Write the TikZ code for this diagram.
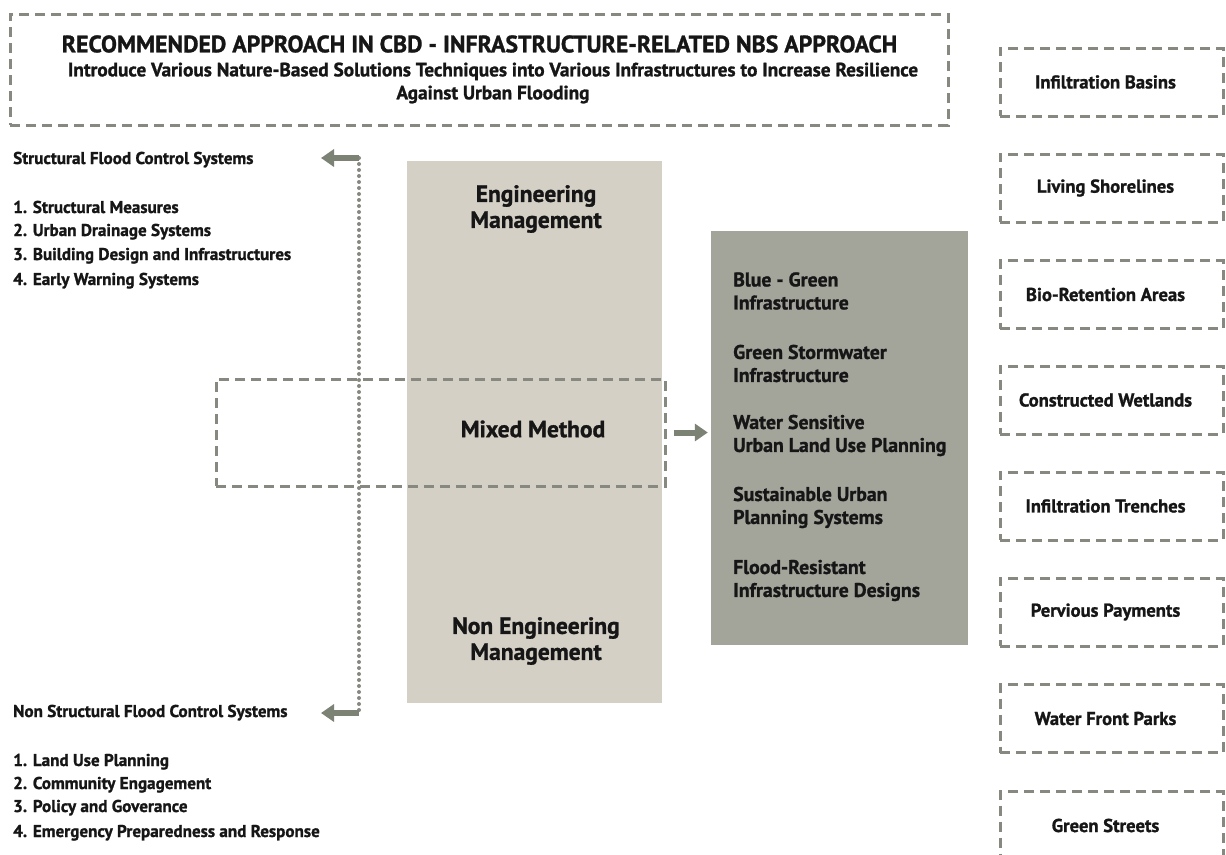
\documentclass[tikz,border=0pt]{standalone}
\usepackage{fontspec}
\setmainfont{PT Sans}[BoldFeatures={FakeBold=1.2}]
\usetikzlibrary{arrows.meta}
\definecolor{beige}{HTML}{D5D0C5}
\definecolor{greybox}{HTML}{A3A59B}
\definecolor{dashc}{HTML}{878980}
\definecolor{arrc}{HTML}{7C8274}
\definecolor{txt}{HTML}{161616}
\tikzset{
  dbox/.style={draw=dashc, line width=3pt, dash pattern=on 10pt off 6pt},
  dotline/.style={draw=dashc, line width=4pt, line cap=round, dash pattern=on 0pt off 6pt},
  fatarrow/.style={draw=arrc, line width=6pt, -{Triangle[length=13pt,width=17pt]}},
  lefttxt/.style={anchor=base west, inner sep=0pt, text=txt, font=\bfseries\fontsize{17.1}{20}\selectfont},
  midtxt/.style={align=center, inner sep=0pt, text=txt, font=\bfseries\fontsize{23.5}{26}\selectfont},
  greytxt/.style={anchor=west, align=left, inner sep=0pt, text=txt, font=\bfseries\fontsize{19.8}{23}\selectfont},
  rbox/.style={dbox, minimum width=223pt, minimum height=68pt, inner sep=0pt, text=txt, font=\bfseries\fontsize{18.6}{20}\selectfont},
}
\begin{document}
\begin{tikzpicture}[x=1pt,y=-1pt]
\useasboundingbox (0,0) rectangle (1226,854);
\fill[white] (0,0) rectangle (1226,854);
% title
\node[dbox, minimum width=938pt, minimum height=111pt, inner sep=0pt] (title) at (479,69.5) {};
\node[text=txt, inner sep=0pt, font=\bfseries\fontsize{23.8}{26}\selectfont] (t1) at (479.5,44) {RECOMMENDED APPROACH IN CBD - INFRASTRUCTURE-RELATED NBS APPROACH};
\node[text=txt, inner sep=0pt, align=center, font=\bfseries\fontsize{19.25}{23}\selectfont] (t2) at (493,83) {Introduce Various Nature-Based Solutions Techniques into Various Infrastructures to Increase Resilience\\Against Urban Flooding};
% main boxes
\node[fill=beige, minimum width=255pt, minimum height=542pt, inner sep=0pt] (eng) at (534.5,432) {};
\node[fill=greybox, minimum width=257pt, minimum height=414pt, inner sep=0pt] (grey) at (839.5,438) {};
\node[dbox, minimum width=449pt, minimum height=107pt, inner sep=0pt] (mixed) at (440.5,432.5) {};
\node[midtxt] (engt) at (536,209) {Engineering\\Management};
\node[midtxt] (mixt) at (533,429) {Mixed Method};
\node[midtxt] (nengt) at (536,641) {Non Engineering\\Management};
% grey box text
\node[greytxt] (g1) at (733,291) {Blue - Green\\Infrastructure};
\node[greytxt] (g2) at (733,363.5) {Green Stormwater\\Infrastructure};
\node[greytxt] (g3) at (733,435.5) {Water Sensitive\\Urban Land Use Planning};
\node[greytxt] (g4) at (733,507.5) {Sustainable Urban\\Planning Systems};
\node[greytxt] (g5) at (733,580.5) {Flood-Resistant\\Infrastructure Designs};
% dotted connector and arrows
\coordinate (dtop) at (359,158);
\coordinate (dbot) at (359,713);
\coordinate (atop) at (321,158);
\coordinate (abot) at (321,713);
\draw[dotline] (dtop) -- (dbot);
\draw[fatarrow] (dtop) -- (atop);
\draw[fatarrow] (dbot) -- (abot);
\coordinate (ms) at ([xshift=7pt]mixed.east);
\coordinate (me) at ([xshift=-3pt]grey.west |- ms);
\draw[fatarrow] (ms) -- (me);
% left texts
\node[lefttxt] (s0) at (13,164) {Structural Flood Control Systems};
\node[lefttxt] (s1) at (13,213) {1. Structural Measures};
\node[lefttxt] (s2) at (13,236) {2. Urban Drainage Systems};
\node[lefttxt] (s3) at (13,260) {3. Building Design and Infrastructures};
\node[lefttxt] (s4) at (13,285) {4. Early Warning Systems};
\node[lefttxt] (n0) at (13,717) {Non Structural Flood Control Systems};
\node[lefttxt] (n1) at (13,766) {1. Land Use Planning};
\node[lefttxt] (n2) at (13,789) {2. Community Engagement};
\node[lefttxt] (n3) at (13,812) {3. Policy and Goverance};
\node[lefttxt] (n4) at (13,837) {4. Emergency Preparedness and Response};
% right column
\node[rbox] (r1) at (1111.5,82) {Infiltration Basins\hspace*{12pt}};
\node[rbox] (r2) at (1111.5,188) {Living Shorelines\hspace*{12pt}};
\node[rbox] (r3) at (1111.5,294.5) {Bio-Retention Areas\hspace*{12pt}};
\node[rbox] (r4) at (1111.5,400) {Constructed Wetlands\hspace*{12pt}};
\node[rbox] (r5) at (1111.5,506) {Infiltration Trenches\hspace*{12pt}};
\node[rbox] (r6) at (1111.5,612) {Pervious Payments\hspace*{12pt}};
\node[rbox] (r7) at (1111.5,718.5) {Water Front Parks\hspace*{12pt}};
\node[rbox] (r8) at (1111.5,825.5) {Green Streets\hspace*{12pt}};
\end{tikzpicture}
\end{document}
